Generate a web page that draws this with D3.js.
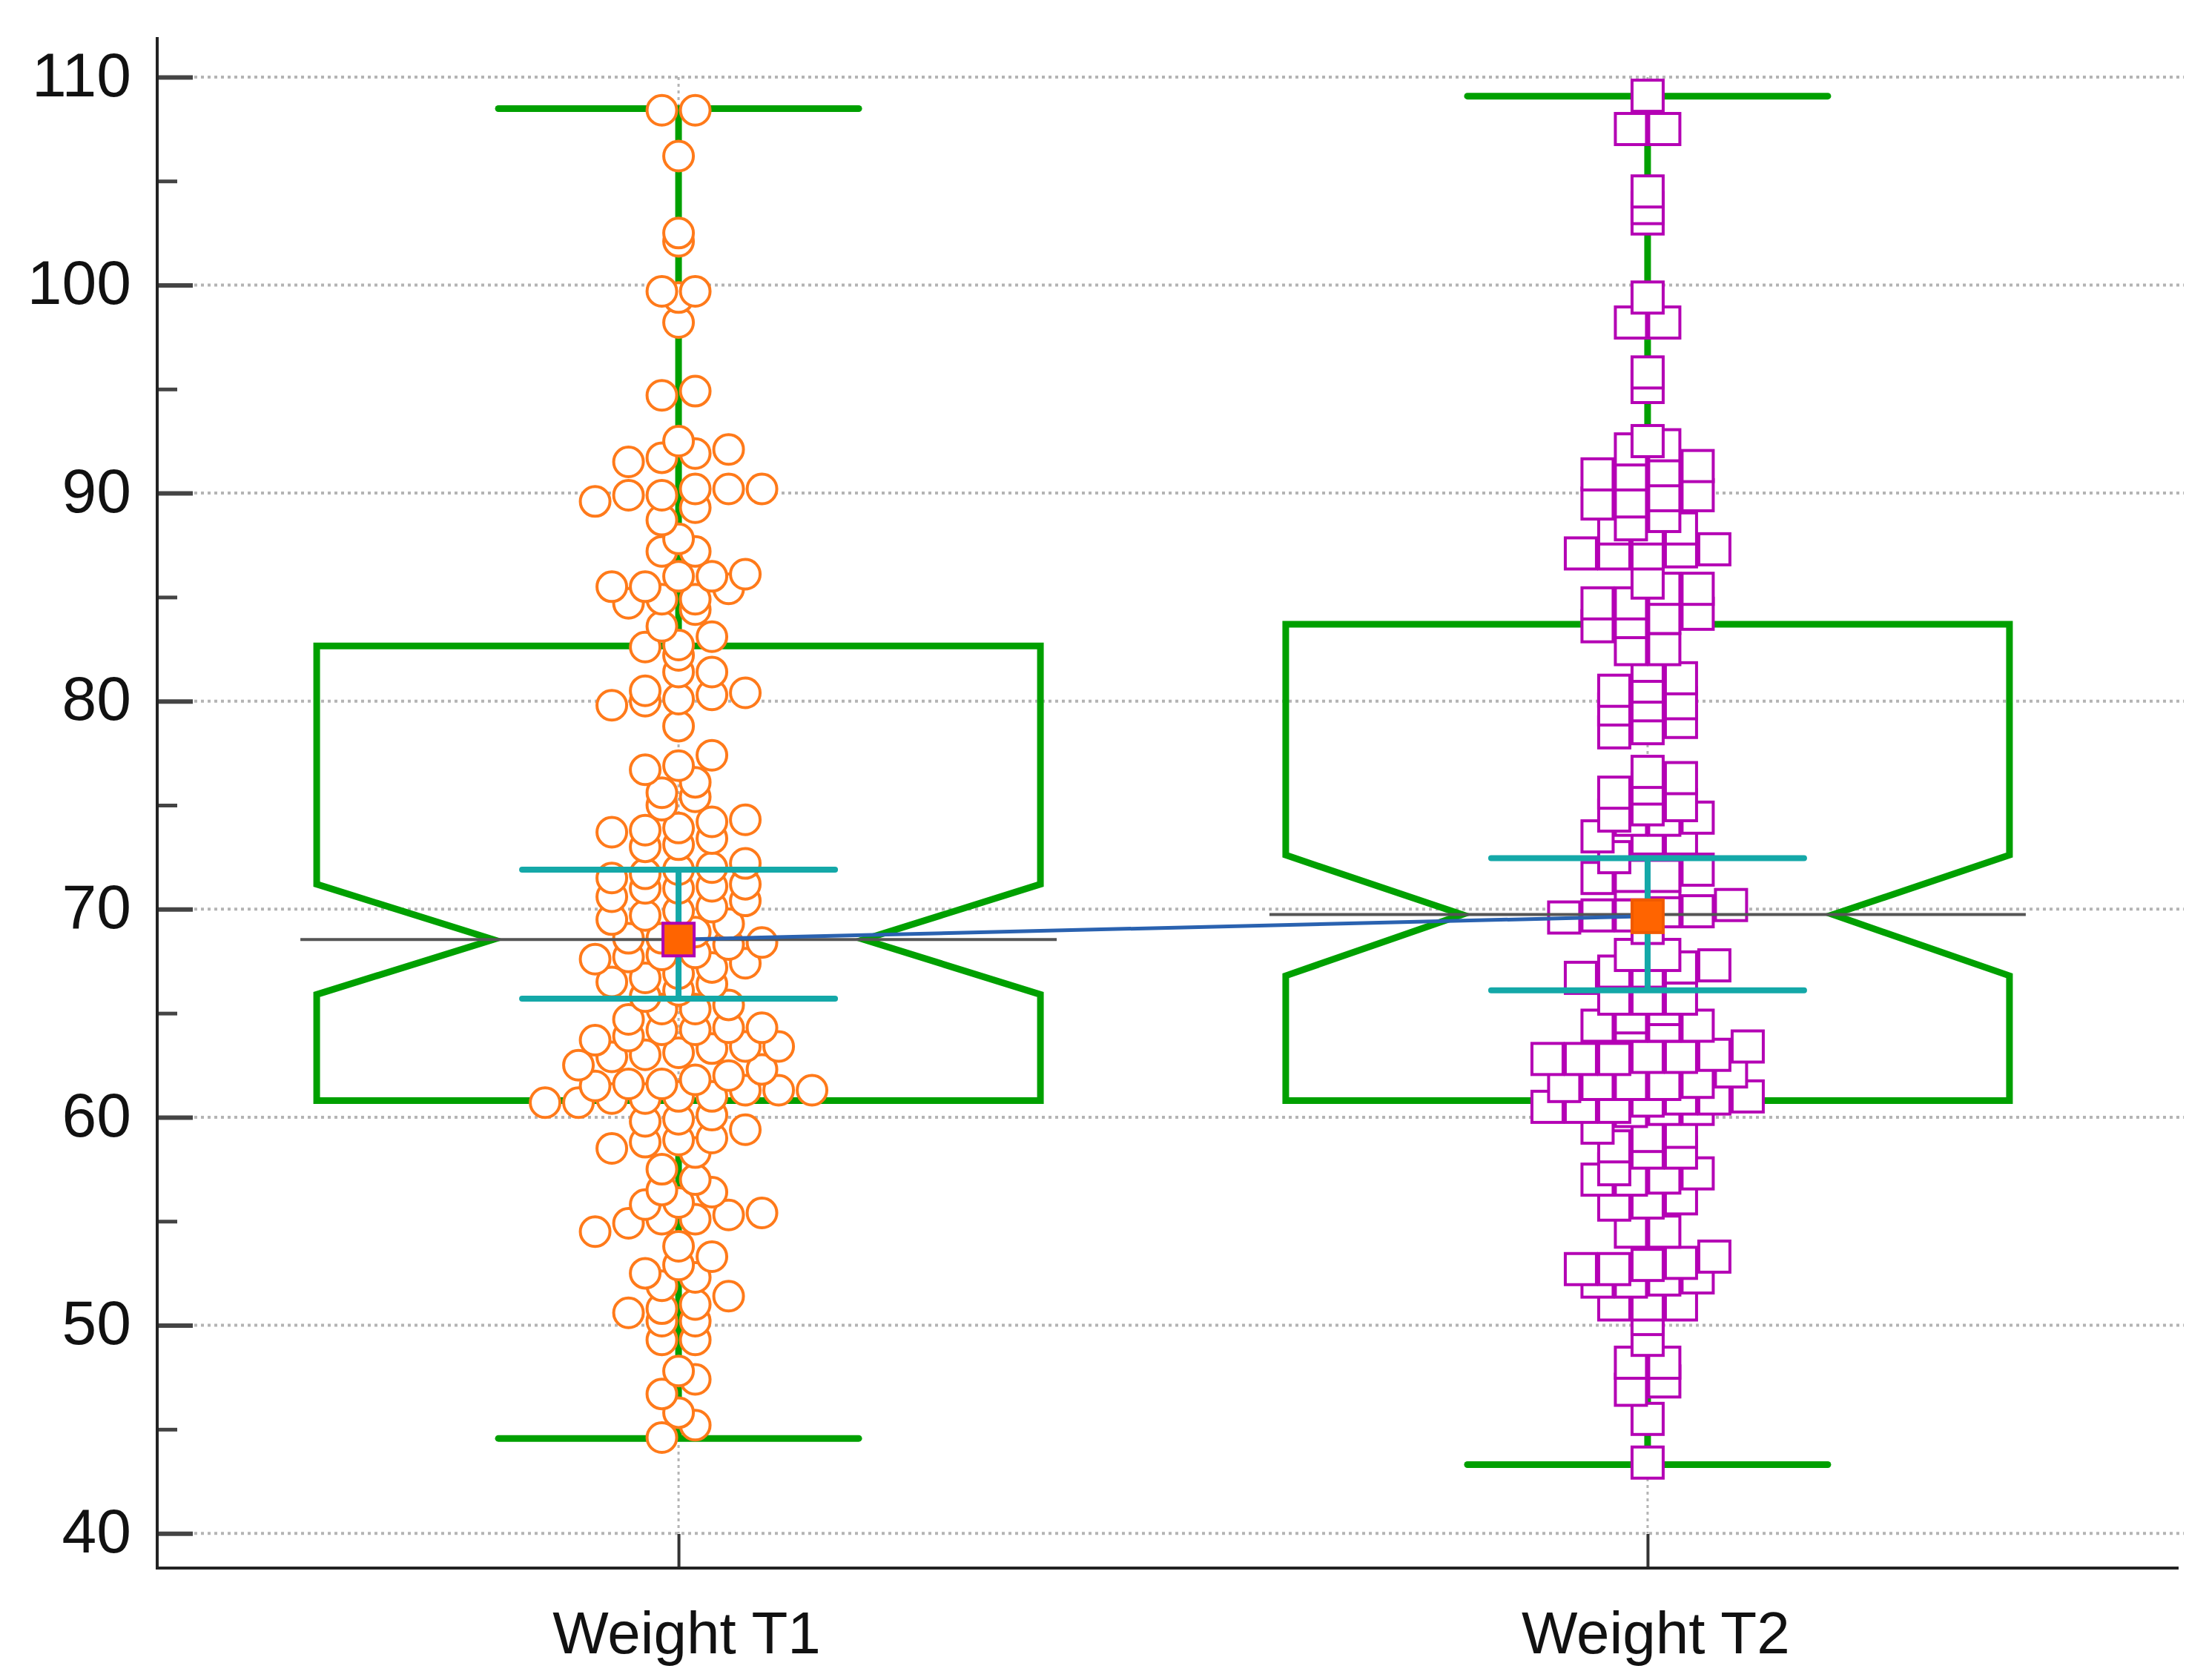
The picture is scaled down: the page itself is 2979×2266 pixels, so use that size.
<!DOCTYPE html>
<html lang="en">
	<head>
		<meta charset="utf-8">
		<title>Weight T1 vs Weight T2</title>
		<script type="text/javascript" src="https://cdn.jsdelivr.net/npm/d3@7"></script>
		<style type="text/css">
			body { margin: 0; background: #fff; }
			text { font-family: "Liberation Sans", Arial, sans-serif; fill: #111; }
		</style>
	</head>
	<body>
		<script type="text/javascript">

			//Categories and tick values
			var categories = ["Weight T1", "Weight T2"];
			var yMajorTicks = [40, 50, 60, 70, 80, 90, 100, 110];
			var yMinorTicks = [45, 55, 65, 75, 85, 95, 105];

			var weightT1 = [108.4, 108.4, 106.2, 102.1, 102.5, 99.4, 99.7, 99.7, 98.2, 94.7, 94.9,
				92.5, 91.5, 91.7, 91.9, 92.1, 89.6, 89.9, 89.9, 90.2, 90.2, 90.2, 89.3, 88.7, 87.8, 87.2, 87.2,
				85.4, 85.5, 85.5, 86.0, 86.0, 86.1, 84.4, 84.7, 84.9, 84.9, 83.6, 83.1, 82.6, 82.7, 82.2, 81.4, 81.4,
				79.8, 80.0, 80.1, 80.3, 80.4, 80.5, 78.8, 77.4, 76.9, 76.7, 76.1, 75.6, 75.4, 75.0,
				74.2, 74.3, 73.9, 73.7, 73.8, 73.1, 73.0, 73.4,
				72.2, 72.0, 71.9, 71.7, 71.5, 71.2, 71.0, 71.0, 71.1, 70.6, 70.1,
				70.4, 69.7, 69.3, 69.9, 69.5, 68.6, 68.6, 68.3, 68.9, 68.4, 67.6, 67.7, 67.8, 67.4, 67.9, 67.2,
				66.5, 66.7, 66.9, 66.4, 66.1, 65.8,
				65.2, 65.2, 65.4, 64.7,
				64.2, 64.2, 64.3, 64.3, 63.7, 63.9, 63.1, 63.3, 63.4, 63.4, 62.9, 63.0, 62.3, 62.5,
				61.6, 61.8, 62.0, 61.3, 61.3, 60.7, 60.7, 60.9, 60.9, 61.0, 61.0, 61.3, 61.5, 61.6,
				59.8, 59.9, 60.1, 59.4, 58.8, 58.9, 59.0, 58.5, 58.3,
				57.5, 57.0, 56.4, 56.5, 55.9, 55.8, 55.4, 55.3, 54.9, 55.1, 55.1, 54.5, 53.8,
				52.9, 53.3, 52.3, 52.5, 51.9, 51.0, 51.4, 50.8, 50.6, 50.2, 50.2, 49.3, 49.3,
				47.8, 47.4, 46.7, 45.8, 45.2, 44.6];

			var weightT2 = [109.1, 107.5, 107.5, 104.5, 103.2, 103.7, 99.4, 98.2, 98.2, 95.1, 95.8,
				92.1, 92.3, 92.5, 90.9, 90.9, 91.1, 91.3, 89.5, 89.6, 89.9, 89.9,
				88.3, 88.3, 88.3, 88.5, 88.9, 87.1, 87.1, 87.1, 87.2, 87.3,
				85.7, 85.4, 85.4, 84.7, 84.7, 84.0, 84.2, 83.6, 83.8, 82.5, 82.5, 81.7, 81.1, 80.7, 80.5,
				79.6, 79.8, 79.9, 79.0, 78.5, 78.7,
				76.6, 76.3, 75.8, 75.6, 75.0, 74.4, 74.3, 74.3, 74.5, 74.8,
				73.4, 73.4, 73.5, 72.5, 71.9, 71.2, 71.3, 71.6, 71.6, 71.5,
				70.2, 69.9, 69.9, 69.7, 69.7, 69.1, 69.6,
				67.8, 67.8, 67.2, 67.3, 67.0, 67.0, 66.7, 65.7, 65.7, 65.7, 65.2, 64.8,
				64.4, 64.4, 64.4, 64.4, 63.4, 62.9, 62.8, 62.8, 62.8, 62.9, 63.0, 62.2,
				61.7, 61.5, 61.6, 61.6, 61.6, 61.0, 60.4, 60.4, 60.5, 60.5, 60.5, 60.8, 60.9, 60.9, 60.3,
				59.3, 59.5, 59.1, 58.3, 58.3, 58.6, 57.5, 57.0, 57.0, 57.1, 57.3, 55.8, 55.9, 56.1,
				54.5, 54.5, 53.0, 53.3, 52.1, 52.1, 52.3, 52.2, 52.7, 52.7, 52.9,
				51.0, 51.0, 51.0, 50.3, 49.3, 48.2, 48.2, 46.9, 47.3, 45.5, 43.4];

			//Box-and-whisker statistics (one entry per category)
			var q1 = [60.8, 60.8];
			var q3 = [82.65, 83.7];
			var median = [68.54, 69.74];
			var notchLow = [65.9, 66.8];
			var notchHigh = [71.2, 72.6];
			var whiskerLow = [44.56, 43.3];
			var whiskerHigh = [108.48, 109.08];
			var mean = [68.54, 69.66];
			var ciLow = [65.7, 66.1];
			var ciHigh = [71.9, 72.45];

			//Width and height
			var w = 2979;
			var h = 2266;

			var green = "#00a000",
				teal = "#14a8a8",
				orange = "#ff7a1a",
				magenta = "#b400b4";

			var symbol = 42;       // marker size
			var spacing = 45;      // horizontal gap between markers in a row
			var rowBin = 1;        // value width of a dot plot row

			//Scales
			var x = d3.scalePoint()
				.domain(categories)
				.range([212, 2925])
				.padding(0.538);

			var y = d3.scaleLinear()
				.domain([38.33, 111.92])
				.range([2115, 50]);

			//Create SVG element
			var svg = d3.select("body")
				.append("svg")
				.attr("width", w)
				.attr("height", h);

			svg.append("rect")
				.attr("width", w)
				.attr("height", h)
				.attr("fill", "#fff");

			// horizontal dotted grid
			svg.append("g")
				.selectAll("line")
				.data(yMajorTicks)
				.enter()
				.append("line")
				.attr("x1", 262)
				.attr("x2", 2945)
				.attr("y1", function(d) { return y(d); })
				.attr("y2", function(d) { return y(d); })
				.attr("stroke", "#b4b4b4")
				.attr("stroke-width", 4)
				.attr("stroke-dasharray", "4,5");

			// vertical dotted lines through the categories
			svg.append("g")
				.selectAll("line")
				.data(categories)
				.enter()
				.append("line")
				.attr("x1", function(d) { return x(d); })
				.attr("x2", function(d) { return x(d); })
				.attr("y1", y(110))
				.attr("y2", y(40))
				.attr("stroke", "#b4b4b4")
				.attr("stroke-width", 3)
				.attr("stroke-dasharray", "4,5");

			// y axis: ticks pointing into the plot
			var yAxis = d3.axisLeft(y)
				.tickValues(yMajorTicks)
				.tickSizeInner(-48)
				.tickSizeOuter(0)
				.tickPadding(35);

			var gy = svg.append("g")
				.attr("transform", "translate(212,0)")
				.call(yAxis);
			gy.select(".domain").remove();
			gy.selectAll(".tick line")
				.attr("stroke", "#444")
				.attr("stroke-width", 6);
			gy.selectAll(".tick text")
				.attr("font-size", 84)
				.attr("dy", "0.3em")
				.style("font-family", '"Liberation Sans", Arial, sans-serif')
				.attr("fill", "#111");

			var gyMinor = svg.append("g")
				.attr("transform", "translate(212,0)")
				.call(d3.axisLeft(y).tickValues(yMinorTicks).tickSizeInner(-27).tickSizeOuter(0).tickFormat(""));
			gyMinor.select(".domain").remove();
			gyMinor.selectAll(".tick line")
				.attr("stroke", "#444")
				.attr("stroke-width", 5);

			svg.append("line")
				.attr("x1", 212).attr("x2", 212)
				.attr("y1", 50).attr("y2", 2117)
				.attr("stroke", "#222")
				.attr("stroke-width", 4);

			// x axis
			var xAxis = d3.axisBottom(x)
				.tickSizeInner(-46)
				.tickSizeOuter(0)
				.tickPadding(58);

			var gx = svg.append("g")
				.attr("transform", "translate(0,2115)")
				.call(xAxis);
			gx.select(".domain").remove();
			gx.selectAll(".tick line")
				.attr("stroke", "#333")
				.attr("stroke-width", 4);
			gx.selectAll(".tick text")
				.attr("font-size", 80)
				.attr("dx", "0.13em")
				.style("font-family", '"Liberation Sans", Arial, sans-serif')
				.attr("fill", "#111");

			svg.append("line")
				.attr("x1", 210).attr("x2", 2938)
				.attr("y1", 2115).attr("y2", 2115)
				.attr("stroke", "#222")
				.attr("stroke-width", 4);

			// box geometry per category
			var boxes = categories.map(function(c, i) {
				return {
					cat: c, q1: q1[i], q3: q3[i], med: median[i],
					nLo: notchLow[i], nHi: notchHigh[i],
					wLo: whiskerLow[i], wHi: whiskerHigh[i],
					mean: mean[i], ciLo: ciLow[i], ciHi: ciHigh[i]
				};
			});

			var boxHalf = 488, notchHalf = 250, capHalf = 243, ciHalf = 211, medHalf = 510;

			var line = d3.line();

			var gb = svg.append("g");

			// whisker stems
			gb.selectAll("line.stem")
				.data(boxes.flatMap(function(b) {
					return [{ cat: b.cat, a: b.q3, z: b.wHi }, { cat: b.cat, a: b.q1, z: b.wLo }];
				}))
				.enter()
				.append("line")
				.attr("x1", function(d) { return x(d.cat); })
				.attr("x2", function(d) { return x(d.cat); })
				.attr("y1", function(d) { return y(d.a); })
				.attr("y2", function(d) { return y(d.z); })
				.attr("stroke", green)
				.attr("stroke-width", 9);

			// whisker caps
			gb.selectAll("line.cap")
				.data(boxes.flatMap(function(b) {
					return [{ cat: b.cat, v: b.wHi }, { cat: b.cat, v: b.wLo }];
				}))
				.enter()
				.append("line")
				.attr("x1", function(d) { return x(d.cat) - capHalf; })
				.attr("x2", function(d) { return x(d.cat) + capHalf; })
				.attr("y1", function(d) { return y(d.v); })
				.attr("y2", function(d) { return y(d.v); })
				.attr("stroke", green)
				.attr("stroke-width", 9)
				.attr("stroke-linecap", "round");

			// notched boxes
			gb.selectAll("path.box")
				.data(boxes)
				.enter()
				.append("path")
				.attr("d", function(b) {
					var cx = x(b.cat), L = cx - boxHalf, R = cx + boxHalf;
					return line([
						[L, y(b.q3)], [R, y(b.q3)], [R, y(b.nHi)], [cx + notchHalf, y(b.med)],
						[R, y(b.nLo)], [R, y(b.q1)], [L, y(b.q1)], [L, y(b.nLo)],
						[cx - notchHalf, y(b.med)], [L, y(b.nHi)]
					]) + "Z";
				})
				.attr("fill", "none")
				.attr("stroke", green)
				.attr("stroke-width", 9)
				.attr("stroke-linejoin", "miter");

			// dot plot rows: values binned, each row centred and sorted left to right
			function swarm(values) {
				var sorted = values.slice().sort(d3.ascending);
				var rows = d3.groups(sorted, function(v) { return Math.floor((v - 0.5) / rowBin); });
				var out = [];
				rows.forEach(function(r) {
					var vs = r[1];
					vs.forEach(function(v, i) {
						out.push({ v: v, k: i - (vs.length - 1) / 2 });
					});
				});
				return out;
			}

			var pts1 = swarm(weightT1);
			var pts2 = swarm(weightT2);

			svg.append("g")
				.selectAll("circle")
				.data(pts1)
				.enter()
				.append("circle")
				.attr("cx", function(d) { return x(categories[0]) + d.k * spacing; })
				.attr("cy", function(d) { return y(d.v); })
				.attr("r", symbol / 2 - 1)
				.attr("fill", "#fff")
				.attr("stroke", orange)
				.attr("stroke-width", 4);

			svg.append("g")
				.selectAll("rect")
				.data(pts2)
				.enter()
				.append("rect")
				.attr("x", function(d) { return x(categories[1]) + d.k * spacing - symbol / 2; })
				.attr("y", function(d) { return y(d.v) - symbol / 2; })
				.attr("width", symbol)
				.attr("height", symbol)
				.attr("fill", "#fff")
				.attr("stroke", magenta)
				.attr("stroke-width", 4);

			// median reference line
			svg.append("g")
				.selectAll("line")
				.data(boxes)
				.enter()
				.append("line")
				.attr("x1", function(b) { return x(b.cat) - medHalf; })
				.attr("x2", function(b) { return x(b.cat) + medHalf; })
				.attr("y1", function(b) { return y(b.med); })
				.attr("y2", function(b) { return y(b.med); })
				.attr("stroke", "#555")
				.attr("stroke-width", 4);

			// confidence interval of the mean
			var gci = svg.append("g");
			gci.selectAll("line.ci")
				.data(boxes)
				.enter()
				.append("line")
				.attr("x1", function(b) { return x(b.cat); })
				.attr("x2", function(b) { return x(b.cat); })
				.attr("y1", function(b) { return y(b.ciLo); })
				.attr("y2", function(b) { return y(b.ciHi); })
				.attr("stroke", teal)
				.attr("stroke-width", 8);
			gci.selectAll("line.cibar")
				.data(boxes.flatMap(function(b) {
					return [{ cat: b.cat, v: b.ciLo }, { cat: b.cat, v: b.ciHi }];
				}))
				.enter()
				.append("line")
				.attr("x1", function(d) { return x(d.cat) - ciHalf; })
				.attr("x2", function(d) { return x(d.cat) + ciHalf; })
				.attr("y1", function(d) { return y(d.v); })
				.attr("y2", function(d) { return y(d.v); })
				.attr("stroke", teal)
				.attr("stroke-width", 8)
				.attr("stroke-linecap", "round");

			// line connecting the means
			svg.append("path")
				.attr("d", line(boxes.map(function(b) { return [x(b.cat), y(b.mean)]; })))
				.attr("fill", "none")
				.attr("stroke", "#2a62b0")
				.attr("stroke-width", 5);

			// mean markers
			svg.append("g")
				.selectAll("rect")
				.data(boxes)
				.enter()
				.append("rect")
				.attr("x", function(b) { return x(b.cat) - 21; })
				.attr("y", function(b) { return y(b.mean) - 22; })
				.attr("width", 42)
				.attr("height", 44)
				.attr("fill", "#ff6400")
				.attr("stroke", function(b, i) { return i === 0 ? "#b000b0" : "#f05a00"; })
				.attr("stroke-width", 4);

		</script>
	</body>
</html>
